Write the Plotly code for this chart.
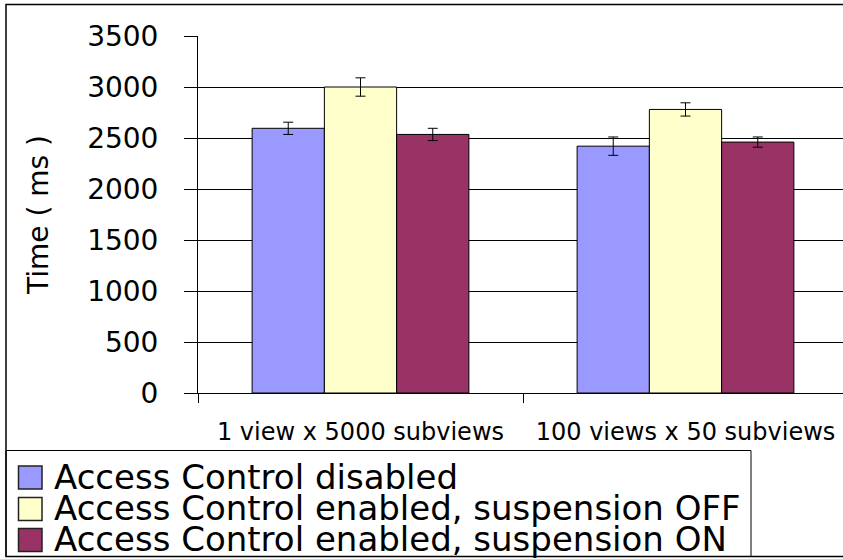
import plotly.graph_objects as go

# ---- data ----
categories = ["1 view x 5000 subviews", "100 views x 50 subviews"]
series_names = [
    "Access Control disabled",
    "Access Control enabled, suspension OFF",
    "Access Control enabled, suspension ON",
]
disabled_ms = [2595, 2420]
enabled_off_ms = [3000, 2780]
enabled_on_ms = [2535, 2460]
disabled_err = [60, 90]
enabled_off_err = [90, 65]
enabled_on_err = [60, 50]
y_ticks = [0, 500, 1000, 1500, 2000, 2500, 3000, 3500]

colors = ["#9999FF", "#FFFFCC", "#993366"]
FONT = "DejaVu Sans"

# plot area in pixels
W, H = 843, 559
PL, PR, PT, PB = 198, 843, 36, 393


def px_x(x):
    return (x - PL) / (PR - PL)


def px_y(y):
    return (PB - y) / (PB - PT)


fig = go.Figure()
values = [disabled_ms, enabled_off_ms, enabled_on_ms]
errs = [disabled_err, enabled_off_err, enabled_on_err]
for name, vals, err, col in zip(series_names, values, errs, colors):
    fig.add_trace(go.Bar(
        x=categories, y=vals, name=name,
        marker=dict(color=col, line=dict(color="black", width=1)),
        error_y=dict(type="data", array=err, visible=True,
                     color="black", thickness=1, width=5),
        showlegend=False,
    ))

shapes = [
    # outer chart border
    dict(type="rect", xref="paper", yref="paper",
         x0=px_x(6), x1=px_x(870), y0=px_y(4.5), y1=px_y(556.5),
         line=dict(color="black", width=1.5), layer="below"),
    # legend box
    dict(type="rect", xref="paper", yref="paper",
         x0=px_x(6), x1=px_x(751), y0=px_y(450.5), y1=px_y(556.5),
         line=dict(color="black", width=1)),
]
annotations = []
row_centers = [477.5, 509, 540]
for name, col, yc in zip(series_names, colors, row_centers):
    shapes.append(dict(type="rect", xref="paper", yref="paper",
                       x0=px_x(18.5), x1=px_x(42), y0=px_y(yc - 11.5), y1=px_y(yc + 11.5),
                       fillcolor=col, line=dict(color="#222222", width=1.5)))
    annotations.append(dict(xref="paper", yref="paper", x=px_x(52), y=px_y(yc - 1),
                            xanchor="left", yanchor="middle", text=name, showarrow=False,
                            font=dict(family=FONT, size=34, color="black")))

fig.update_layout(
    width=W, height=H,
    margin=dict(l=PL, r=W - PR, t=PT, b=H - PB, pad=0),
    paper_bgcolor="white", plot_bgcolor="white",
    barmode="group", bargap=0.333, bargroupgap=0,
    font=dict(family=FONT, color="black"),
    shapes=shapes, annotations=annotations,
    showlegend=False,
    xaxis=dict(type="category", categoryorder="array", categoryarray=categories,
               range=[-0.5, -0.5 + (PR - PL) / 325.0],
               showline=True, linecolor="black", linewidth=1,
               ticks="outside", tickson="boundaries", ticklen=9, tickcolor="black",
               showgrid=False, tickfont=dict(family=FONT, size=24, color="black"),
               ticklabelstandoff=17),
    yaxis=dict(range=[0, 3500], tickvals=y_ticks,
               showline=True, linecolor="black", linewidth=1,
               showgrid=True, gridcolor="black", gridwidth=1,
               zeroline=False,
               ticks="outside", ticklen=13, tickcolor="black",
               tickfont=dict(family=FONT, size=28, color="black"),
               ticklabelstandoff=20,
               title=dict(text="Time ( ms )", standoff=30,
                          font=dict(family=FONT, size=28, color="black"))),
)

fig.write_html("out.html",
               config={"displayModeBar": False},
               post_script="document.body.style.margin='0';document.body.style.overflow='hidden';")
